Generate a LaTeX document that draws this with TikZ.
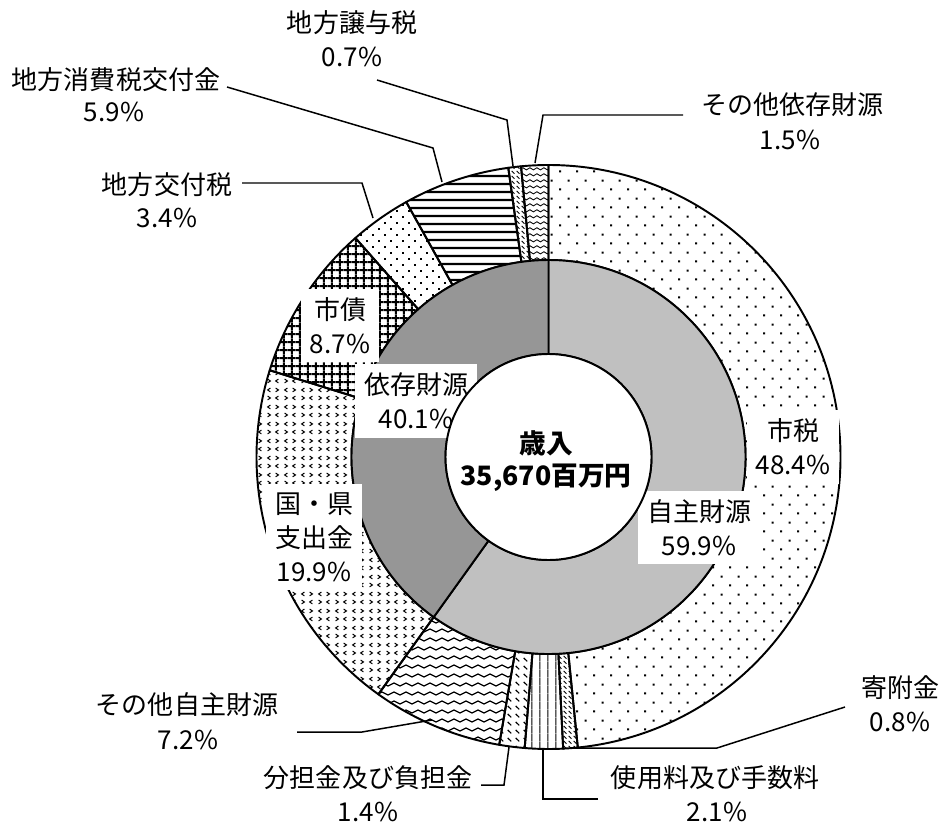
\documentclass[tikz,border=0pt]{standalone}
\usepackage{fontspec}
\setmainfont{Noto Sans CJK JP}
\usetikzlibrary{patterns}
\definecolor{jishucol}{HTML}{C0C0C0}
\definecolor{izoncol}{HTML}{969696}
\newcommand\labfont{\fontsize{14.8pt}{19.3pt}\selectfont}
\newcommand\ctrfont{\fontsize{15.2pt}{19.8pt}\selectfont\bfseries}
% patterns
\pgfdeclarepatternformonly{zdots}{\pgfpointorigin}{\pgfqpoint{9.6pt}{10.2pt}}{\pgfqpoint{9.6pt}{10.2pt}}{%
  \pgfpathrectangle{\pgfqpoint{1.85pt}{2pt}}{\pgfqpoint{1.15pt}{1.15pt}}%
  \pgfpathrectangle{\pgfqpoint{6.65pt}{7.1pt}}{\pgfqpoint{1.15pt}{1.15pt}}%
  \pgfusepath{fill}}
\pgfdeclarepatternformonly{fdots}{\pgfpointorigin}{\pgfqpoint{6.8pt}{6.8pt}}{\pgfqpoint{6.8pt}{6.8pt}}{%
  \pgfpathrectangle{\pgfqpoint{1.25pt}{1.25pt}}{\pgfqpoint{0.95pt}{0.95pt}}%
  \pgfpathrectangle{\pgfqpoint{4.65pt}{4.65pt}}{\pgfqpoint{0.95pt}{0.95pt}}%
  \pgfusepath{fill}}
\pgfdeclarepatternformonly{hlin}{\pgfpointorigin}{\pgfqpoint{4.8pt}{4.8pt}}{\pgfqpoint{4.8pt}{4.8pt}}{%
  \pgfpathrectangle{\pgfqpoint{0pt}{1.75pt}}{\pgfqpoint{4.8pt}{1.3pt}}\pgfusepath{fill}}
\pgfdeclarepatternformonly{vlin}{\pgfpointorigin}{\pgfqpoint{4.7pt}{4.7pt}}{\pgfqpoint{4.7pt}{4.7pt}}{%
  \pgfpathrectangle{\pgfqpoint{2pt}{0pt}}{\pgfqpoint{0.75pt}{4.7pt}}\pgfusepath{fill}}
\pgfdeclarepatternformonly{gridp}{\pgfpointorigin}{\pgfqpoint{4.7pt}{4.7pt}}{\pgfqpoint{4.7pt}{4.7pt}}{%
  \pgfpathrectangle{\pgfqpoint{0pt}{1.75pt}}{\pgfqpoint{4.7pt}{1.2pt}}%
  \pgfpathrectangle{\pgfqpoint{1.75pt}{0pt}}{\pgfqpoint{1.2pt}{4.7pt}}\pgfusepath{fill}}
\pgfdeclarepatternformonly{sdash}{\pgfpointorigin}{\pgfqpoint{4.5pt}{4.5pt}}{\pgfqpoint{4.5pt}{4.5pt}}{%
  \pgfsetlinewidth{0.7pt}%
  \pgfpathmoveto{\pgfqpoint{1pt}{3.5pt}}\pgfpathlineto{\pgfqpoint{3pt}{1.5pt}}\pgfusepath{stroke}}
\pgfdeclarepatternformonly{ddash}{\pgfpointorigin}{\pgfqpoint{3pt}{3pt}}{\pgfqpoint{3pt}{3pt}}{%
  \pgfsetlinewidth{0.6pt}%
  \pgfpathmoveto{\pgfqpoint{0.4pt}{2.6pt}}\pgfpathlineto{\pgfqpoint{2.2pt}{0.8pt}}\pgfusepath{stroke}}
\pgfdeclarepatternformonly{wavep}{\pgfpointorigin}{\pgfqpoint{6.8pt}{5.1pt}}{\pgfqpoint{6.8pt}{5.1pt}}{%
  \pgfsetlinewidth{0.7pt}%
  \pgfpathmoveto{\pgfqpoint{-3.4pt}{1.7pt}}\pgfpathlineto{\pgfqpoint{0pt}{3.4pt}}%
  \pgfpathlineto{\pgfqpoint{3.4pt}{1.7pt}}\pgfpathlineto{\pgfqpoint{6.8pt}{3.4pt}}%
  \pgfpathlineto{\pgfqpoint{10.2pt}{1.7pt}}\pgfusepath{stroke}}
\pgfdeclarepatternformonly{swave}{\pgfpointorigin}{\pgfqpoint{4.2pt}{3.4pt}}{\pgfqpoint{4.2pt}{3.4pt}}{%
  \pgfsetlinewidth{0.5pt}%
  \pgfpathmoveto{\pgfqpoint{-2.1pt}{1.2pt}}\pgfpathlineto{\pgfqpoint{0pt}{2.4pt}}%
  \pgfpathlineto{\pgfqpoint{2.1pt}{1.2pt}}\pgfpathlineto{\pgfqpoint{4.2pt}{2.4pt}}%
  \pgfpathlineto{\pgfqpoint{6.3pt}{1.2pt}}\pgfusepath{stroke}}
\pgfdeclarepatternformonly{chev}{\pgfpointorigin}{\pgfqpoint{9.4pt}{9.4pt}}{\pgfqpoint{9.4pt}{9.4pt}}{%
  \pgfsetlinewidth{0.6pt}%
  \pgfpathmoveto{\pgfqpoint{1.55pt}{3.45pt}}\pgfpathlineto{\pgfqpoint{3.15pt}{2.35pt}}\pgfpathlineto{\pgfqpoint{1.55pt}{1.25pt}}%
  \pgfpathmoveto{\pgfqpoint{7.85pt}{3.45pt}}\pgfpathlineto{\pgfqpoint{6.25pt}{2.35pt}}\pgfpathlineto{\pgfqpoint{7.85pt}{1.25pt}}%
  \pgfpathmoveto{\pgfqpoint{3.15pt}{8.15pt}}\pgfpathlineto{\pgfqpoint{1.55pt}{7.05pt}}\pgfpathlineto{\pgfqpoint{3.15pt}{5.95pt}}%
  \pgfpathmoveto{\pgfqpoint{6.25pt}{8.15pt}}\pgfpathlineto{\pgfqpoint{7.85pt}{7.05pt}}\pgfpathlineto{\pgfqpoint{6.25pt}{5.95pt}}%
  \pgfusepath{stroke}}
\newcommand\piesl[3]{\draw[slicebd, pattern=#3] (#1:292) arc[start angle=#1, end angle=#2, radius=292] -- (#2:197) arc[start angle=#2, end angle=#1, radius=197] -- cycle;}
\begin{document}
\begin{tikzpicture}[x=0.02cm, y=0.02cm,
  slicebd/.style={draw=black, line width=1.1pt, line join=round},
  lab/.style={font=\labfont, inner sep=0pt, align=center},
  boxlab/.style={font=\labfont, fill=white, inner xsep=5pt, inner ysep=5pt, align=center},
  leader/.style={draw=black, line width=0.85pt}]
\useasboundingbox (0,0) rectangle (942,823);
\fill[white] (0,0) rectangle (942,823);
\begin{scope}[shift={(548.5,366)}]
  \piesl{90}{-84.24}{zdots}
  \piesl{-84.24}{-87.12}{ddash}
  \piesl{-87.12}{-94.68}{vlin}
  \piesl{-94.68}{-99.72}{sdash}
  \piesl{-99.72}{-125.64}{wavep}
  \piesl{-125.64}{-197.28}{chev}
  \piesl{-197.28}{-228.6}{gridp}
  \piesl{-228.6}{-240.84}{fdots}
  \piesl{-240.84}{-262.08}{hlin}
  \piesl{-262.08}{-264.6}{ddash}
  \piesl{-264.6}{-270}{swave}
  \draw[slicebd, fill=jishucol] (90:197) arc[start angle=90, end angle=-125.64, radius=197] -- (-125.64:103) arc[start angle=-125.64, end angle=90, radius=103] -- cycle;
  \draw[slicebd, fill=izoncol] (-125.64:197) arc[start angle=-125.64, end angle=-270, radius=197] -- (90:103) arc[start angle=90, end angle=-125.64+360, radius=103] -- cycle;
\end{scope}
% boxed labels
\node[boxlab] (shizei) at (793,376) {市税\\48.4\%};
\node[boxlab] (jishu) at (699,295.5) {自主財源\\59.9\%};
\node[boxlab] (izon) at (416,422) {依存財源\\40.1\%};
\node[boxlab] (shisai) at (340,497.5) {市債\\8.7\%};
\node[boxlab] (kokken) at (314,286) {国・県\\支出金\\19.9\%};
% centre circle
\draw[slicebd, fill=white] (548.5,366) circle[radius=103];
\node[font=\ctrfont, inner sep=0pt] (sainyu) at (546,380) {歳入};
\node[font=\ctrfont, inner sep=0pt] (sogaku) at (546,345) {35,670百万円};
% outside labels
\node[lab] (jyo) at (352,800) {地方譲与税};
\node[lab] (jyop) at (352,766) {0.7\%};
\node[lab] (sho) at (116,743) {地方消費税交付金};
\node[lab] (shop) at (114,711) {5.9\%};
\node[lab] (kof) at (167,638) {地方交付税};
\node[lab] (kofp) at (167,605) {3.4\%};
\node[lab] (ize) at (792,718) {その他依存財源};
\node[lab] (izep) at (790,683) {1.5\%};
\node[lab] (sjs) at (187,118) {その他自主財源};
\node[lab] (sjsp) at (188,83) {7.2\%};
\node[lab] (bun) at (368,45) {分担金及び負担金};
\node[lab] (bunp) at (368,11) {1.4\%};
\node[lab] (shiyo) at (715,45) {使用料及び手数料};
\node[lab] (shiyop) at (717,11) {2.1\%};
\node[lab] (kifu) at (900,135) {寄附金};
\node[lab] (kifup) at (900,101) {0.8\%};
% leader points
\coordinate (jyoA) at (377,743); \coordinate (jyoB) at (507,703); \coordinate (jyoC) at (513,657);
\coordinate (shoA) at (227,736); \coordinate (shoB) at (433,675); \coordinate (shoC) at (442,641);
\coordinate (kofA) at (242,640); \coordinate (kofB) at (362,640); \coordinate (kofC) at (373,605);
\coordinate (izeA) at (683,708); \coordinate (izeB) at (543,708); \coordinate (izeC) at (535,660);
\coordinate (kifA) at (845,116); \coordinate (kifB) at (717,75); \coordinate (kifC) at (570,75);
\coordinate (shiA) at (598,24); \coordinate (shiB) at (543,24); \coordinate (shiC) at (543,74);
\coordinate (bunA) at (481,38); \coordinate (bunB) at (504,38); \coordinate (bunC) at (509,76);
\coordinate (sjsA) at (297,91); \coordinate (sjsB) at (362,91); \coordinate (sjsC) at (432,103);
\draw[leader] (jyoA) -- (jyoB) -- (jyoC);
\draw[leader] (shoA) -- (shoB) -- (shoC);
\draw[leader] (kofA) -- (kofB) -- (kofC);
\draw[leader] (izeA) -- (izeB) -- (izeC);
\draw[leader] (kifA) -- (kifB) -- (kifC);
\draw[leader] (shiA) -- (shiB) -- (shiC);
\draw[leader] (bunA) -- (bunB) -- (bunC);
\draw[leader] (sjsA) -- (sjsB) -- (sjsC);
\end{tikzpicture}
\end{document}
